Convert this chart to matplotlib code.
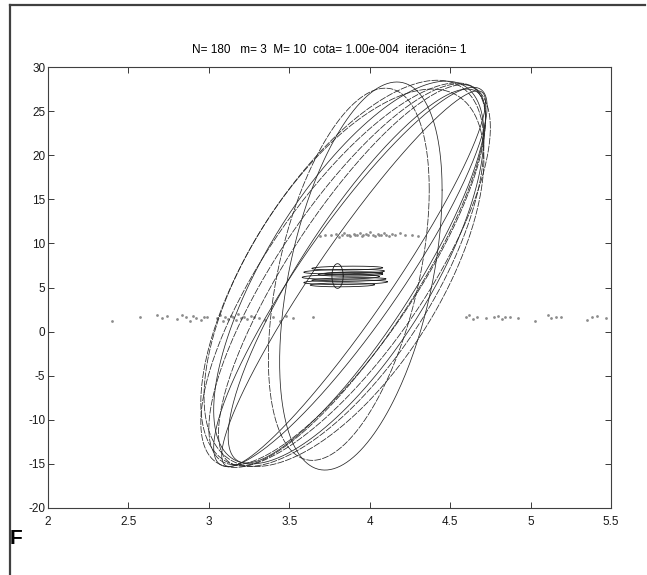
# ellipses and point clusters, matlab-like figure
import numpy as np
import matplotlib.pyplot as plt
from matplotlib.lines import Line2D

plt.rcParams['font.family'] = ['Liberation Sans', 'DejaVu Sans']
plt.rcParams['axes.unicode_minus'] = False

# big ellipses: centre, half range in x, half range in y, phase (deg)
big_cx = [3.85, 3.88, 3.83, 3.90, 3.86, 3.92, 3.84, 3.87, 3.89, 3.945, 3.87]
big_cy = [6.4, 6.2, 6.6, 6.0, 6.5, 6.3, 6.1, 6.7, 6.4, 6.3, 6.5]
big_a = [0.90, 0.85, 0.88, 0.82, 0.86, 0.80, 0.87, 0.84, 0.83, 0.505, 0.50]
big_b = [21.8, 21.5, 21.9, 21.3, 21.6, 21.2, 21.4, 21.7, 21.6, 22.0, 21.1]
big_ph = [40, 26, 48, 20, 36, 31, 51, 44, 34, 63.7, 63]

# small ellipses near the middle
sm_cx = [3.86, 3.84, 3.88, 3.82, 3.87, 3.85, 3.90, 3.83, 3.80]
sm_cy = [7.2, 6.8, 6.5, 6.2, 5.9, 5.6, 6.6, 5.3, 6.3]
sm_a = [0.22, 0.25, 0.20, 0.24, 0.23, 0.26, 0.18, 0.20, 0.035]
sm_b = [0.22, 0.26, 0.22, 0.26, 0.22, 0.26, 0.18, 0.22, 1.4]
sm_ph = [80, 75, 85, 80, 70, 80, 75, 85, 90]

# point clusters
xs1 = [3.69, 3.72, 3.76, 3.79, 3.81, 3.83, 3.84, 3.86, 3.87, 3.88, 3.90, 3.91, 3.92,
       3.94, 3.95, 3.96, 3.98, 3.99, 4.00, 4.02, 4.03, 4.05, 4.06, 4.07, 4.09, 4.10,
       4.12, 4.14, 4.16, 4.19, 4.22, 4.26, 4.30]
ys1 = [10.8, 11.0, 10.9, 11.1, 10.7, 11.0, 11.2, 10.9, 11.0, 10.8, 11.1, 10.9, 11.0,
       11.2, 10.8, 11.0, 11.1, 10.9, 11.3, 11.0, 10.8, 11.1, 11.0, 10.9, 11.2, 11.0,
       10.8, 11.1, 11.0, 11.2, 10.9, 11.0, 10.8]
xs2 = [2.40, 2.57, 2.68, 2.71, 2.74, 2.80, 2.83, 2.86, 2.88, 2.90, 2.92, 2.95, 2.97,
       2.99, 3.05, 3.07, 3.09, 3.10, 3.12, 3.14, 3.15, 3.17, 3.18, 3.20, 3.22, 3.24,
       3.26, 3.28, 3.31, 3.35, 3.40, 3.44, 3.48, 3.52, 3.65]
ys2 = [1.2, 1.7, 1.9, 1.5, 1.8, 1.4, 1.9, 1.6, 1.2, 1.8, 1.5, 1.3, 1.7,
       1.6, 1.5, 1.9, 1.2, 1.7, 1.4, 1.8, 1.6, 1.3, 2.0, 1.5, 1.7, 1.4,
       1.8, 1.6, 1.5, 1.3, 1.6, 1.2, 1.8, 1.5, 1.7]
xs3 = [4.60, 4.62, 4.64, 4.67, 4.72, 4.77, 4.80, 4.82, 4.84, 4.87, 4.92, 5.03, 5.11,
       5.13, 5.16, 5.19, 5.35, 5.38, 5.41, 5.47]
ys3 = [1.6, 1.9, 1.4, 1.7, 1.5, 1.6, 1.8, 1.4, 1.6, 1.7, 1.5, 1.2, 1.9,
       1.5, 1.7, 1.6, 1.3, 1.6, 1.8, 1.5]

title = 'N= 180   m= 3  M= 10  cota= 1.00e-004  iteración= 1'


def ellipse(cx, cy, a, b, ph):
    t = np.linspace(0, 2 * np.pi, 300)
    return cx + a * np.cos(t), cy + b * np.cos(t - np.radians(ph))


fig = plt.figure(figsize=(6.47, 5.75), dpi=100)
ax = fig.add_axes([48 / 647, 1 - 508 / 575, 563 / 647, 441 / 575])

ax.scatter(xs1 + xs2 + xs3, ys1 + ys2 + ys3, s=4, color='0.55', linewidths=0)

for i in range(len(big_cx)):
    x, y = ellipse(big_cx[i], big_cy[i], big_a[i], big_b[i], big_ph[i])
    ls = (0, (9, 1.5)) if i % 2 == 0 else '-'
    ax.plot(x, y, color='0.15', lw=0.55, ls=ls)

for i in range(len(sm_cx)):
    x, y = ellipse(sm_cx[i], sm_cy[i], sm_a[i], sm_b[i], sm_ph[i])
    ax.plot(x, y, color='0.1', lw=0.6)

ax.set_xlim(2, 5.5)
ax.set_ylim(-20, 30)
ax.set_xticks(np.arange(2, 5.51, 0.5))
ax.set_xticklabels(['2', '2.5', '3', '3.5', '4', '4.5', '5', '5.5'])
ax.set_yticks(np.arange(-20, 31, 5))
ax.tick_params(direction='in', top=True, right=True, length=4, width=0.6,
               labelsize=8.5, pad=2, colors='0.1')
ax.tick_params(axis='x', pad=6)
for s in ax.spines.values():
    s.set_linewidth(0.8)
    s.set_color('0.25')
ax.set_title(title, fontsize=8.5, pad=10)

# outer frame and the stray letter
fig.add_artist(Line2D([10 / 647, 10 / 647], [0, 1 - 5 / 575], color='0.25', lw=1.6))
fig.add_artist(Line2D([10 / 647, 645 / 647], [1 - 5 / 575, 1 - 5 / 575], color='0.25', lw=1.6))
fig.text(10 / 647, 1 - 544 / 575, 'F', fontsize=15, fontweight='bold', ha='left', va='baseline')

fig.savefig('out.png', dpi=100)
